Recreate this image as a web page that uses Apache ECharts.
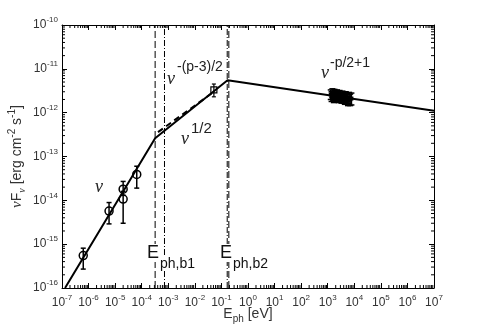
<!DOCTYPE html>
<html>
<head>
<meta charset="utf-8">
<script src="https://cdn.jsdelivr.net/npm/echarts@6/dist/echarts.min.js"></script>
<style>
  html, body { margin: 0; padding: 0; background: #fff; }
  #main { width: 480px; height: 329px; }
</style>
</head>
<body>
<div id="main"></div>
<script>
// optical / UV points (eV, erg cm^-2 s^-1)
const optE = [6.3e-7, 5.9e-6, 2.0e-5, 2.0e-5, 6.5e-5]
const optF = [5.5e-16, 5.7e-15, 1.8e-14, 1.07e-14, 3.9e-14]
const optLo = [2.7e-16, 2.9e-15, 1.3e-14, 3.0e-15, 1.9e-14]
const optHi = [8.1e-16, 8.9e-15, 2.7e-14, 1.6e-14, 6.0e-14]

// single square point
const sqE = [0.052]
const sqF = [3.3e-12]
const sqLo = [2.3e-12]
const sqHi = [4.5e-12]

// X-ray cluster
const xrE = [1300, 1400, 1500, 1600, 1700, 1800, 1950, 2100, 2250, 2400, 2600, 2800, 3000, 3300, 3600, 4000, 4400, 4800, 5300, 5800, 6400, 7000, 7800]
const xrF = [2.6e-12, 2.35e-12, 2.8e-12, 2.45e-12, 2.2e-12, 2.7e-12, 2.5e-12, 2.3e-12, 2.6e-12, 2.4e-12, 2.2e-12, 2.5e-12, 2.3e-12, 2.15e-12, 2.4e-12, 2.2e-12, 2.05e-12, 2.3e-12, 2.1e-12, 1.95e-12, 2.2e-12, 2.0e-12, 2.1e-12]
const xrLo = [2.0e-12, 1.8e-12, 2.2e-12, 1.9e-12, 1.7e-12, 2.1e-12, 1.95e-12, 1.8e-12, 2.0e-12, 1.85e-12, 1.7e-12, 1.9e-12, 1.75e-12, 1.65e-12, 1.8e-12, 1.65e-12, 1.55e-12, 1.7e-12, 1.55e-12, 1.45e-12, 1.6e-12, 1.45e-12, 1.5e-12]
const xrHi = [3.3e-12, 3.0e-12, 3.5e-12, 3.1e-12, 2.8e-12, 3.4e-12, 3.2e-12, 2.9e-12, 3.3e-12, 3.0e-12, 2.85e-12, 3.2e-12, 2.95e-12, 2.8e-12, 3.1e-12, 2.85e-12, 2.7e-12, 3.0e-12, 2.75e-12, 2.6e-12, 2.9e-12, 2.65e-12, 2.8e-12]

// broken power-law model
const modelE = [1.3e-7, 3.2e-4, 0.17, 1e7]
const modelF = [1e-16, 2.6e-13, 5.5e-12, 1.1e-12]
// dashed alternative segment nu^-(p-3)/2
const altE = [4.1e-4, 4.5e-2]
const altF = [3.6e-13, 2.8e-12]

// break markers
const brkDashed = [3.2e-4, 0.19]
const brkDashDot = [7.2e-4, 0.165]

const xMin = 1e-7, xMax = 1e7, yMin = 1e-16, yMax = 1e-10
const xDecades = [-7, -6, -5, -4, -3, -2, -1, 0, 1, 2, 3, 4, 5, 6]
const yDecades = [-16, -15, -14, -13, -12, -11]

const SANS = 'Liberation Sans'
const SERIF = 'Liberation Serif'

const pair = (a, b) => a.map((v, i) => [v, b[i]])
const errData = (e, f, lo, hi) => e.map((v, i) => [v, f[i], lo[i], hi[i]])

// minor log ticks (2..9 per decade)
const minorData = []
xDecades.forEach(n => { for (let k = 2; k <= 9; k++) minorData.push([k * Math.pow(10, n), yMin, 0]) })
yDecades.forEach(n => { for (let k = 2; k <= 9; k++) minorData.push([xMin, k * Math.pow(10, n), 1]) })

const powLabel = v => '{b|10}{s|' + Math.round(Math.log10(v)) + '}'
const tickRich = {
  b: { fontFamily: SANS, fontSize: 12, color: '#333', lineHeight: 18 },
  s: { fontFamily: SANS, fontSize: 8, color: '#333', lineHeight: 10, verticalAlign: 'top' }
}

const vline = (x, type) => ({
  type: 'line',
  data: [[x, yMin], [x, yMax]],
  symbol: 'none',
  silent: true,
  lineStyle: { color: '#000', width: 1, type: type },
  z: 1
})

const errRender = (capW, lw) => (params, api) => {
  const top = api.coord([api.value(0), api.value(3)])
  const bot = api.coord([api.value(0), api.value(2)])
  return {
    type: 'group',
    children: [
      { type: 'line', shape: { x1: top[0], y1: top[1], x2: bot[0], y2: bot[1] }, style: { stroke: '#000', lineWidth: lw } },
      { type: 'line', shape: { x1: top[0] - capW, y1: top[1], x2: top[0] + capW, y2: top[1] }, style: { stroke: '#000', lineWidth: lw } },
      { type: 'line', shape: { x1: bot[0] - capW, y1: bot[1], x2: bot[0] + capW, y2: bot[1] }, style: { stroke: '#000', lineWidth: lw } }
    ]
  }
}

const chart = echarts.init(document.getElementById('main'))
chart.setOption({
  animation: false,
  backgroundColor: '#fff',
  grid: { left: 62, right: 46, top: 25, bottom: 41, containLabel: false, outerBoundsMode: 'none' },
  xAxis: [{
    type: 'log', logBase: 10, min: xMin, max: xMax, interval: 1,
    name: '{e|E}{sub|ph}{t| [eV]}',
    nameLocation: 'middle', nameGap: 16, nameMoveOverlap: false,
    nameTextStyle: {
      rich: {
        e: { fontFamily: SANS, fontSize: 14, color: '#333', lineHeight: 20 },
        sub: { fontFamily: SANS, fontSize: 10, color: '#333', lineHeight: 12, verticalAlign: 'bottom' },
        t: { fontFamily: SANS, fontSize: 14, color: '#333', lineHeight: 20 }
      }
    },
    axisLine: { lineStyle: { color: '#000', width: 1 } },
    axisTick: { inside: true, length: 5, lineStyle: { color: '#000' } },
    axisLabel: { formatter: powLabel, rich: tickRich, margin: 6 },
    splitLine: { show: false }
  }, {
    type: 'log', logBase: 10, min: xMin, max: xMax, interval: 1, position: 'top',
    axisLine: { lineStyle: { color: '#000', width: 1 } },
    axisTick: { inside: true, length: 5, lineStyle: { color: '#000' } },
    axisLabel: { show: false },
    splitLine: { show: false }
  }],
  yAxis: [{
    type: 'log', logBase: 10, min: yMin, max: yMax, interval: 1,
    name: '{n|ν}{t|F}{sb|ν}{t| [erg cm}{sp|-2}{t| s}{sp|-1}{t|]}',
    nameLocation: 'middle', nameGap: 35, nameMoveOverlap: false,
    nameTextStyle: {
      rich: {
        n: { fontFamily: SERIF, fontStyle: 'italic', fontSize: 15, color: '#333', lineHeight: 20 },
        t: { fontFamily: SANS, fontSize: 14, color: '#333', lineHeight: 20 },
        sb: { fontFamily: SERIF, fontStyle: 'italic', fontSize: 10, color: '#333', lineHeight: 12, verticalAlign: 'bottom' },
        sp: { fontFamily: SANS, fontSize: 10, color: '#333', lineHeight: 12, verticalAlign: 'top' }
      }
    },
    axisLine: { lineStyle: { color: '#000', width: 1 } },
    axisTick: { inside: true, length: 5, lineStyle: { color: '#000' } },
    axisLabel: { formatter: powLabel, rich: tickRich, margin: 4 },
    splitLine: { show: false }
  }, {
    type: 'log', logBase: 10, min: yMin, max: yMax, interval: 1, position: 'right',
    axisLine: { show: true, lineStyle: { color: '#000', width: 1 } },
    axisTick: { inside: true, length: 5, lineStyle: { color: '#000' } },
    axisLabel: { show: false },
    splitLine: { show: false }
  }],
  graphic: [
    { type: 'text', left: 95, top: 178, style: { text: 'ν', font: 'italic 18px ' + SERIF, fill: '#222' } },

    { type: 'text', left: 167, top: 70, style: { text: 'ν', font: 'italic 18px ' + SERIF, fill: '#222' } },
    { type: 'text', left: 177, top: 60, style: { text: '-(p-3)/2', font: '14px ' + SANS, fill: '#222' } },

    { type: 'text', left: 181, top: 130, style: { text: 'ν', font: 'italic 18px ' + SERIF, fill: '#222' } },
    { type: 'text', left: 191, top: 121, style: { text: '1/2', font: '15px ' + SANS, fill: '#222' } },

    { type: 'text', left: 321, top: 64, style: { text: 'ν', font: 'italic 18px ' + SERIF, fill: '#222' } },
    { type: 'text', left: 330, top: 56, style: { text: '-p/2+1', font: '14px ' + SANS, fill: '#222' } },

    { type: 'text', left: 147, top: 244, z: 100, style: { text: 'E', font: '18px ' + SANS, fill: '#111', backgroundColor: '#fff' } },
    { type: 'text', left: 160, top: 257, z: 100, style: { text: 'ph,b1', font: '14px ' + SANS, fill: '#111', backgroundColor: '#fff' } },
    { type: 'text', left: 220, top: 244, z: 100, style: { text: 'E', font: '18px ' + SANS, fill: '#111', backgroundColor: '#fff' } },
    { type: 'text', left: 233, top: 257, z: 100, style: { text: 'ph,b2', font: '14px ' + SANS, fill: '#111', backgroundColor: '#fff' } }
  ],
  series: [
    vline(brkDashed[0], [7, 3]),
    vline(brkDashed[1], [7, 3]),
    vline(brkDashDot[0], [6, 2, 1, 2]),
    vline(brkDashDot[1], [6, 2, 1, 2]),
    {
      type: 'line', data: pair(modelE, modelF), symbol: 'none', silent: true,
      lineStyle: { color: '#000', width: 2 }, z: 3
    },
    {
      type: 'line', data: pair(altE, altF), symbol: 'none', silent: true,
      lineStyle: { color: '#000', width: 2, type: [6, 4] }, z: 3
    },
    {
      type: 'custom', data: errData(optE, optF, optLo, optHi),
      renderItem: errRender(2.5, 1.5), z: 4, silent: true
    },
    {
      type: 'scatter', data: pair(optE, optF), symbol: 'circle', symbolSize: 8,
      itemStyle: { color: 'rgba(255,255,255,0)', borderColor: '#000', borderWidth: 1.5, opacity: 1 }, z: 5, silent: true
    },
    {
      type: 'custom', data: errData(sqE, sqF, sqLo, sqHi),
      renderItem: errRender(2, 1.2), z: 4, silent: true
    },
    {
      type: 'scatter', data: pair(sqE, sqF), symbol: 'rect', symbolSize: 6,
      itemStyle: { color: 'rgba(255,255,255,0)', borderColor: '#000', borderWidth: 1.2, opacity: 1 }, z: 5, silent: true
    },
    {
      type: 'custom', data: errData(xrE, xrF, xrLo, xrHi),
      renderItem: errRender(3, 1.5), z: 4, silent: true
    },
    {
      type: 'scatter', data: pair(xrE, xrF), symbol: 'rect', symbolSize: 4,
      itemStyle: { color: '#000', opacity: 1 }, z: 5, silent: true
    },
    {
      // minor log ticks on all four sides
      type: 'custom', data: minorData, silent: true, z: 6,
      renderItem: (params, api) => {
        const len = 3
        if (api.value(2) === 0) {
          const b = api.coord([api.value(0), yMin])
          const t = api.coord([api.value(0), yMax])
          return {
            type: 'group', children: [
              { type: 'line', shape: { x1: b[0], y1: b[1], x2: b[0], y2: b[1] - len }, style: { stroke: '#000', lineWidth: 1 } },
              { type: 'line', shape: { x1: t[0], y1: t[1], x2: t[0], y2: t[1] + len }, style: { stroke: '#000', lineWidth: 1 } }
            ]
          }
        }
        const l = api.coord([xMin, api.value(1)])
        const r = api.coord([xMax, api.value(1)])
        return {
          type: 'group', children: [
            { type: 'line', shape: { x1: l[0], y1: l[1], x2: l[0] + len, y2: l[1] }, style: { stroke: '#000', lineWidth: 1 } },
            { type: 'line', shape: { x1: r[0], y1: r[1], x2: r[0] - len, y2: r[1] }, style: { stroke: '#000', lineWidth: 1 } }
          ]
        }
      }
    }
  ]
})
</script>
</body>
</html>
